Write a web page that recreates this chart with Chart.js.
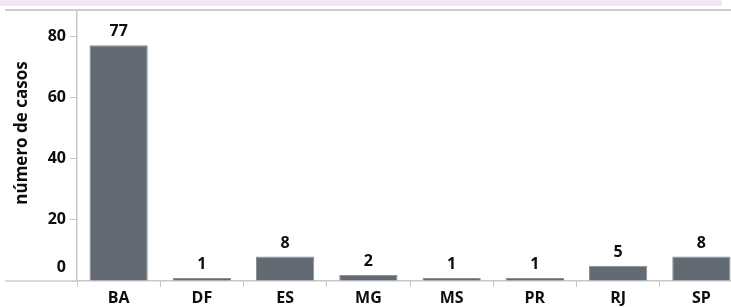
<!DOCTYPE html>
<html>
<head>
<meta charset="utf-8">
<script src="https://cdn.jsdelivr.net/npm/chart.js@4"></script>
<style>
  html, body { margin: 0; padding: 0; background: #fff; }
  #wrap { position: relative; width: 731px; height: 307px; overflow: hidden; }
  #band { position: absolute; left: 0; top: 0; width: 722px; height: 6px; background: #f0e8f1; }
</style>
</head>
<body>
<div id="wrap">
  <div id="band"></div>
  <canvas id="chart" width="743" height="307" style="position:absolute;left:0;top:0"></canvas>
</div>
<script>
// states and case counts
const estados = ['BA', 'DF', 'ES', 'MG', 'MS', 'PR', 'RJ', 'SP'];
const casos = [77, 1, 8, 2, 1, 1, 5, 8];
const yTicks = [0, 20, 40, 60, 80];
const yTitle = 'número de casos';

const FONT = '"Open Sans", sans-serif';
const INK = '#0d0d0d';

const extras = {
    id: 'extras',
    afterDraw(chart) {
        const ctx = chart.ctx;
        const y = chart.scales.y;
        const area = chart.chartArea;
        ctx.save();
        // frame lines
        ctx.strokeStyle = '#cccccc';
        ctx.lineWidth = 2;
        ctx.beginPath();
        ctx.moveTo(5, 10);
        ctx.lineTo(chart.width, 10);
        ctx.stroke();
        ctx.lineWidth = 1.5;
        ctx.beginPath();
        ctx.moveTo(5, area.bottom);
        ctx.lineTo(area.left, area.bottom);
        ctx.stroke();

        // y tick labels (0 label lifted like the original)
        ctx.fillStyle = INK;
        ctx.font = 'bold 16px ' + FONT;
        ctx.textAlign = 'right';
        ctx.textBaseline = 'middle';
        yTicks.forEach(v => {
            let py = y.getPixelForValue(v);
            if (v === 0) py -= 14;
            ctx.fillText(String(v), area.left - 11, py);
        });

        // value labels on bars
        ctx.textAlign = 'center';
        ctx.textBaseline = 'alphabetic';
        const meta = chart.getDatasetMeta(0);
        meta.data.forEach((bar, i) => {
            ctx.fillText(String(casos[i]), bar.x, bar.y - 9);
        });

        // y axis title
        ctx.font = 'bold 17px ' + FONT;
        ctx.translate(27, 133);
        ctx.rotate(-Math.PI / 2);
        ctx.textAlign = 'center';
        ctx.textBaseline = 'alphabetic';
        ctx.fillText(yTitle, 0, 0);
        ctx.restore();
    }
};

new Chart(document.getElementById('chart'), {
    type: 'bar',
    data: {
        labels: estados,
        datasets: [{
            data: casos,
            backgroundColor: '#626a73',
            borderColor: '#8a9097',
            borderWidth: 1,
            categoryPercentage: 1.0,
            barPercentage: 0.7
        }]
    },
    options: {
        responsive: false,
        animation: false,
        layout: { padding: { top: 10, right: 0, left: 0, bottom: 0 } },
        plugins: {
            legend: { display: false },
            tooltip: { enabled: false },
            title: { display: false }
        },
        scales: {
            x: {
                grid: {
                    offset: true,
                    drawOnChartArea: false,
                    drawTicks: true,
                    tickLength: 6,
                    color: '#c8c8c8'
                },
                border: { color: '#c8c8c8', width: 1.5 },
                ticks: {
                    color: INK,
                    padding: 2,
                    font: { family: FONT, size: 16, weight: 'bold' }
                },
                afterFit(scale) { scale.height = 26; }
            },
            y: {
                min: 0,
                max: 88.5,
                afterBuildTicks(scale) {
                    scale.ticks = yTicks.map(v => ({ value: v }));
                },
                grid: {
                    drawOnChartArea: false,
                    drawTicks: true,
                    tickLength: 7,
                    color: '#c8c8c8'
                },
                border: { color: '#c8c8c8', width: 1.5 },
                ticks: { display: false },
                afterFit(scale) { scale.width = 77; }
            }
        }
    },
    plugins: [extras]
});
</script>
</body>
</html>
